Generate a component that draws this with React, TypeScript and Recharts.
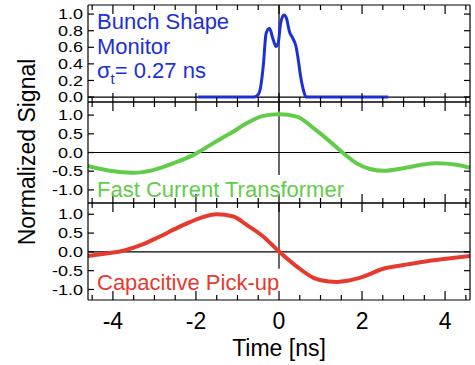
import { Line, LineChart, ReferenceLine, XAxis, YAxis } from "recharts";

const timeTicks = [-4.5, -4, -3.5, -3, -2.5, -2, -1.5, -1, -0.5, 0, 0.5, 1, 1.5, 2, 2.5, 3, 3.5, 4, 4.5];
const timeLabels = [-4, -2, 0, 2, 4];
const bunchTicks = [0, 0.2, 0.4, 0.6, 0.8, 1.0];
const signalTicks = [-1, -0.5, 0, 0.5, 1];

// bunch shape monitor
const bunchTime = [-1.95, -1.0, -0.6, -0.5, -0.45, -0.38, -0.31, -0.23, -0.15, -0.07, -0.02, 0.04, 0.12, 0.18, 0.25, 0.33, 0.41, 0.47, 0.52, 0.59, 0.65, 1.5, 2.63];
const bunchSignal = [0, 0, 0, 0.03, 0.1, 0.37, 0.77, 0.83, 0.71, 0.61, 0.65, 0.89, 0.99, 0.95, 0.79, 0.71, 0.61, 0.43, 0.25, 0.08, 0, 0, 0];

// fast current transformer
const fctTime = [-4.6, -4.07, -3.51, -3.03, -2.55, -2.07, -1.58, -1.1, -0.78, -0.38, 0, 0.43, 0.83, 1.23, 1.55, 1.87, 2.19, 2.51, 3.0, 3.48, 3.8, 4.28, 4.6];
const fctSignal = [-0.36, -0.49, -0.54, -0.47, -0.29, -0.07, 0.25, 0.56, 0.78, 0.98, 1.02, 0.96, 0.65, 0.29, -0.02, -0.29, -0.44, -0.49, -0.42, -0.32, -0.29, -0.33, -0.41];

// capacitive pick-up
const pickupTime = [-4.6, -4.07, -3.83, -3.35, -2.87, -2.39, -1.9, -1.5, -1.1, -0.78, -0.38, 0, 0.43, 0.83, 1.2, 1.4, 1.65, 2.03, 2.51, 3.0, 3.48, 3.96, 4.6];
const pickupSignal = [-0.11, -0.03, 0.01, 0.17, 0.41, 0.67, 0.9, 1.0, 0.94, 0.72, 0.41, 0.01, -0.39, -0.69, -0.79, -0.8, -0.77, -0.66, -0.45, -0.35, -0.26, -0.19, -0.11];

const font = "'Liberation Sans', Arial, Helvetica, sans-serif";
const blue = "#1c30d8";
const green = "#62cc4a";
const red = "#e63a2e";
const axisStroke = { stroke: "#000", strokeWidth: 1.2 };

const toRows = (time: number[], values: number[]) => time.map((t, i) => ({ t, v: values[i] }));

function makeXTick(side: "top" | "bottom", labelled: boolean) {
    return (props: any) => {
        const { x, y, payload } = props;
        const v = payload.value;
        const major = timeLabels.includes(v);
        const len = major ? 9 : 5;
        const dir = side === "bottom" ? -1 : 1;
        return (
            <g>
                <line x1={x} x2={x} y1={y} y2={y + dir * len} stroke="#000" strokeWidth={1.2} />
                {labelled && major && (
                    <text x={x} y={y + 29} textAnchor="middle" fontSize={23} fontFamily={font} fill="#000">
                        {v}
                    </text>
                )}
            </g>
        );
    };
}

function makeYTick(side: "left" | "right") {
    return (props: any) => {
        const { x, y, payload } = props;
        const dir = side === "left" ? 1 : -1;
        return (
            <g>
                <line x1={x} x2={x + dir * 6} y1={y} y2={y} stroke="#000" strokeWidth={1.2} />
                {side === "left" && (
                    <text
                        transform={`translate(${x - 5},${y}) scale(1,0.78)`}
                        textAnchor="end"
                        dy="0.36em"
                        fontSize={18}
                        fontFamily={font}
                        fill="#000"
                    >
                        {payload.value.toFixed(1)}
                    </text>
                )}
            </g>
        );
    };
}

interface PanelProps {
    data: Array<{ t: number; v: number }>;
    color: string;
    top: number;
    bottom: number;
    domain: [number, number];
    yTicks: number[];
    vLineEnd: number;
    showLabels?: boolean;
    width: number;
}

// each panel is its own chart, stacked on the same 475x365 canvas
function Panel({ data, color, top, bottom, domain, yTicks, vLineEnd, showLabels = false, width }: PanelProps) {
    return (
        <div style={{ position: "absolute", left: 0, top: 0 }}>
            <LineChart
                width={475}
                height={365}
                data={data}
                margin={{ top: top - 1, bottom: 365 - bottom - 1, left: 87, right: 4 }}
            >
                <XAxis
                    xAxisId="b"
                    dataKey="t"
                    type="number"
                    domain={[-4.6, 4.6]}
                    ticks={timeTicks}
                    interval={0}
                    height={1}
                    tickSize={0}
                    tickMargin={0}
                    tickLine={false}
                    tick={makeXTick("bottom", showLabels)}
                    axisLine={axisStroke}
                    allowDataOverflow
                />
                <XAxis
                    xAxisId="t"
                    orientation="top"
                    dataKey="t"
                    type="number"
                    domain={[-4.6, 4.6]}
                    ticks={timeTicks}
                    interval={0}
                    height={1}
                    tickSize={0}
                    tickMargin={0}
                    tickLine={false}
                    tick={makeXTick("top", false)}
                    axisLine={axisStroke}
                    allowDataOverflow
                />
                <YAxis
                    yAxisId="l"
                    type="number"
                    domain={domain}
                    ticks={yTicks}
                    interval={0}
                    width={1}
                    tickSize={0}
                    tickMargin={0}
                    tickLine={false}
                    tick={makeYTick("left")}
                    axisLine={axisStroke}
                    allowDataOverflow
                />
                <YAxis
                    yAxisId="r"
                    orientation="right"
                    type="number"
                    domain={domain}
                    ticks={yTicks}
                    interval={0}
                    width={1}
                    tickSize={0}
                    tickMargin={0}
                    tickLine={false}
                    tick={makeYTick("right")}
                    axisLine={axisStroke}
                    allowDataOverflow
                />
                <ReferenceLine xAxisId="b" yAxisId="l" y={0} stroke="#000" strokeWidth={1.2} />
                <ReferenceLine
                    xAxisId="b"
                    yAxisId="l"
                    segment={[
                        { x: 0, y: domain[1] },
                        { x: 0, y: vLineEnd },
                    ]}
                    stroke="#000"
                    strokeWidth={1.2}
                />
                <Line
                    xAxisId="b"
                    yAxisId="l"
                    type="monotone"
                    dataKey="v"
                    stroke={color}
                    strokeWidth={width}
                    dot={false}
                    activeDot={false}
                    isAnimationActive={false}
                />
            </LineChart>
        </div>
    );
}

export default function App() {
    return (
        <div style={{ position: "absolute", left: 0, top: 0, width: 475, height: 365, background: "#fff" }}>
            <Panel
                data={toRows(bunchTime, bunchSignal)}
                color={blue}
                top={5}
                bottom={102}
                domain={[-0.06, 1.11]}
                yTicks={bunchTicks}
                vLineEnd={-0.06}
                width={3}
            />
            <Panel
                data={toRows(fctTime, fctSignal)}
                color={green}
                top={102}
                bottom={203}
                domain={[-1.35, 1.35]}
                yTicks={signalTicks}
                vLineEnd={-0.6}
                width={4}
            />
            <Panel
                data={toRows(pickupTime, pickupSignal)}
                color={red}
                top={203}
                bottom={300}
                domain={[-1.28, 1.3]}
                yTicks={signalTicks}
                vLineEnd={-0.45}
                width={4}
                showLabels
            />
            <svg
                width={475}
                height={365}
                style={{ position: "absolute", left: 0, top: 0, pointerEvents: "none" }}
                fontFamily={font}
            >
                <text x={97} y={29} fontSize={22} fill={blue}>
                    Bunch Shape
                </text>
                <text x={97} y={54} fontSize={22} fill={blue}>
                    Monitor
                </text>
                <text x={97} y={78} fontSize={22} fill={blue}>
                    σ
                    <tspan dy={6} fontSize={15}>
                        t
                    </tspan>
                    <tspan dy={-6}>= 0.27 ns</tspan>
                </text>
                <text x={97} y={197} fontSize={22} fill={green}>
                    Fast Current Transformer
                </text>
                <text x={97} y={290} fontSize={22} fill={red}>
                    Capacitive Pick-up
                </text>
                <text x={279} y={356} fontSize={23} textAnchor="middle" fill="#000">
                    Time [ns]
                </text>
                <text
                    transform="translate(35,152) rotate(-90)"
                    fontSize={23}
                    textAnchor="middle"
                    fill="#000"
                >
                    Normalized Signal
                </text>
            </svg>
        </div>
    );
}
